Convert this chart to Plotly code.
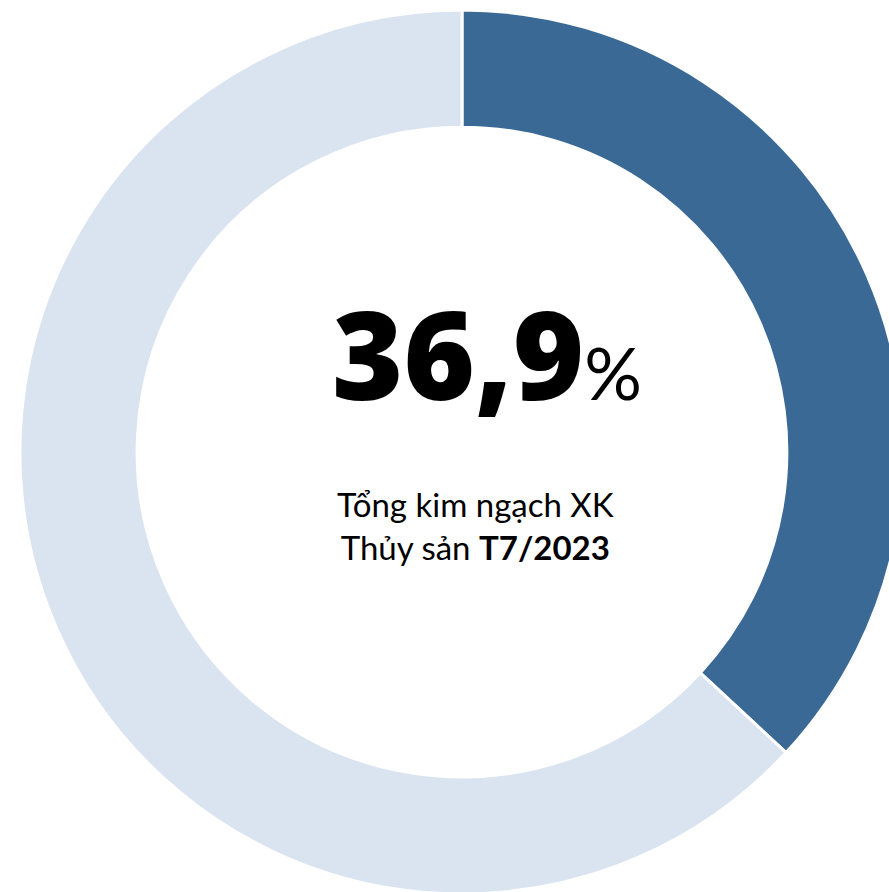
import plotly.graph_objects as go

# Share of July 2023 seafood export turnover
labels = ["T7/2023", "Còn lại"]
values = [36.9, 63.1]
colors = ["#3B6996", "#D9E4F0"]

big_value = "36,9"
caption_line1 = "Tổng kim ngạch XK"
caption_line2 = "Thủy sản"
caption_bold = "T7/2023"

# Figure is a bit larger than the window so the ring gets clipped on the right/bottom
W, H = 924, 904
FONT = "Lato, 'Open Sans', sans-serif"
BIG_FONT = "'Open Sans', Lato, sans-serif"


def px_x(x):
    return x / W


def px_y(y):
    return 1 - y / H


fig = go.Figure(go.Pie(
    labels=labels,
    values=values,
    hole=0.735,
    sort=False,
    direction="clockwise",
    rotation=0,
    textinfo="none",
    hoverinfo="label+percent",
    marker=dict(colors=colors, line=dict(color="#FFFFFF", width=3)),
    domain=dict(x=[0, 1], y=[px_y(894), px_y(10)]),
))

fig.add_annotation(
    text=f"{big_value}<span style=\"font-size:72px;font-weight:normal;font-family:Lato\">%</span>",
    x=px_x(487), y=px_y(353),
    xref="paper", yref="paper",
    xanchor="center", yanchor="middle",
    showarrow=False,
    font=dict(family=BIG_FONT, size=122, color="#000000", weight=800),
)

fig.add_annotation(
    text=f"{caption_line1}<br>{caption_line2} <b>{caption_bold}</b>",
    x=px_x(475), y=px_y(525),
    xref="paper", yref="paper",
    xanchor="center", yanchor="middle",
    showarrow=False,
    font=dict(family=FONT, size=33, color="#000000"),
)

fig.update_layout(
    width=W,
    height=H,
    showlegend=False,
    paper_bgcolor="#FFFFFF",
    plot_bgcolor="#FFFFFF",
    margin=dict(l=0, r=0, t=0, b=0),
)

fig.write_html(
    "out.html",
    config={"displayModeBar": False},
    post_script="document.body.style.margin='0';document.body.style.overflow='hidden';",
)
